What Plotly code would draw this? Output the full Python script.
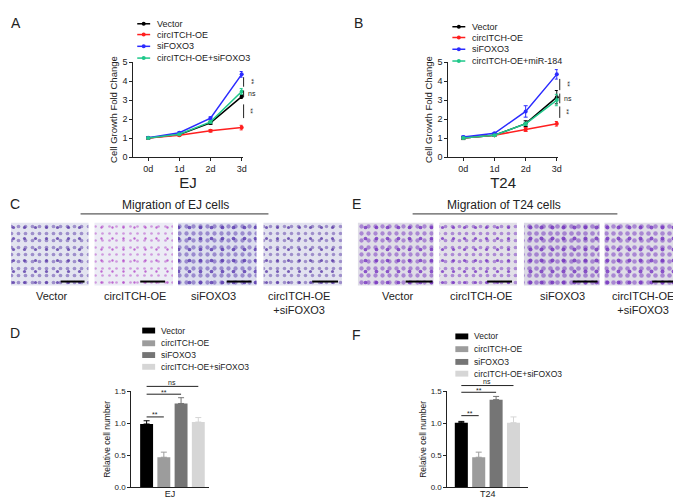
import plotly.graph_objects as go

W, H = 681, 502
FONT = "Liberation Sans, Arial, sans-serif"
INK = "#222222"

# ---- data ----
days = ["0d", "1d", "2d", "3d"]
ej_groups = ["Vector", "circITCH-OE", "siFOXO3", "circITCH-OE+siFOXO3"]
t24_groups = ["Vector", "circITCH-OE", "siFOXO3", "circITCH-OE+miR-184"]
line_colors = ["#000000", "#ff1f1f", "#2b2bff", "#1fc88a"]

ej_growth = [[1.00, 1.18, 1.80, 3.18],
             [1.00, 1.15, 1.38, 1.55],
             [1.02, 1.28, 2.05, 4.35],
             [1.00, 1.20, 1.85, 3.45]]
ej_growth_err = [[0.05, 0.05, 0.08, 0.10],
                 [0.06, 0.04, 0.06, 0.12],
                 [0.04, 0.04, 0.06, 0.15],
                 [0.04, 0.04, 0.06, 0.15]]
t24_growth = [[1.00, 1.15, 1.76, 3.15],
              [1.00, 1.15, 1.45, 1.75],
              [1.05, 1.25, 2.40, 4.35],
              [1.00, 1.15, 1.75, 3.00]]
t24_growth_err = [[0.08, 0.05, 0.15, 0.35],
                  [0.05, 0.04, 0.10, 0.12],
                  [0.06, 0.04, 0.30, 0.25],
                  [0.05, 0.04, 0.08, 0.30]]
# (top, bottom, label) of the brackets right of day 3
ej_growth_sig = [(4.20, 3.70, "**"), (3.50, 3.15, "ns"), (2.77, 2.05, "**")]
t24_growth_sig = [(4.11, 3.52, "**"), (3.34, 2.83, "ns"), (2.66, 2.06, "**")]

bar_groups = ["Vector", "circITCH-OE", "siFOXO3", "circITCH-OE+siFOXO3"]
bar_colors = ["#000000", "#9c9c9c", "#757575", "#d6d6d6"]
ej_migration = [0.99, 0.47, 1.31, 1.02]
ej_migration_err = [0.05, 0.08, 0.09, 0.07]
t24_migration = [1.01, 0.47, 1.37, 1.01]
t24_migration_err = [0.02, 0.08, 0.05, 0.09]
# (compared bar, label, height) - all against Vector
ej_bar_sig = [(1, "**", 1.10), (2, "**", 1.455), (3, "ns", 1.577)]
t24_bar_sig = [(1, "**", 1.12), (2, "**", 1.485), (3, "ns", 1.59)]

image_labels = ["Vector", "circITCH-OE", "siFOXO3", "circITCH-OE<br>+siFOXO3"]


def px(x):
    return x / W


def py(y):
    return 1 - y / H


def to_paper(v, dom, rng):
    return dom[0] + (v - rng[0]) / (rng[1] - rng[0]) * (dom[1] - dom[0])


fig = go.Figure()

axis_common = dict(showgrid=False, zeroline=False, showline=True, linecolor=INK,
                   linewidth=1, ticks="outside", ticklen=3, tickwidth=1,
                   tickcolor=INK, tickfont=dict(size=9, color=INK), fixedrange=True)

shapes = []
annotations = []

################################################################################
# A / B : growth curves

line_panels = [
    dict(xa="x", ya="y", data=ej_growth, err=ej_growth_err, groups=ej_groups,
         sig=ej_growth_sig, x0=126, x1=236, title="EJ",
         leg_x=130, leg_y=[11, 22, 34, 46], sig_x=237),
    dict(xa="x2", ya="y2", data=t24_growth, err=t24_growth_err, groups=t24_groups,
         sig=t24_growth_sig, x0=443, x1=553, title="T24",
         leg_x=447, leg_y=[14, 25, 37, 49], sig_x=555),
]
growth_ydom = [py(147), py(50)]

for n, p in enumerate(line_panels):
    for vals, err, c in zip(p["data"], p["err"], line_colors):
        fig.add_trace(go.Scatter(
            x=days, y=vals, mode="lines+markers", showlegend=False, cliponaxis=False,
            line=dict(color=c, width=1.5), marker=dict(size=4, color=c),
            error_y=dict(type="data", array=err, color=c, thickness=1, width=2),
            xaxis=p["xa"], yaxis=p["ya"]))
    sfx = "" if n == 0 else "2"
    fig.layout["xaxis" + sfx] = dict(axis_common, domain=[px(p["x0"]), px(p["x1"])],
                                     range=[-0.48, 3.03], anchor="y" + sfx,
                                     title=dict(text=p["title"], font=dict(size=15, color=INK), standoff=4))
    fig.layout["yaxis" + sfx] = dict(axis_common, domain=growth_ydom, range=[0, 5], dtick=1,
                                     anchor="x" + sfx,
                                     title=dict(text="Cell Growth Fold Change", font=dict(size=9.5, color=INK), standoff=3))
    # legend
    for name, c, ly in zip(p["groups"], line_colors, p["leg_y"]):
        lx = p["leg_x"]
        shapes.append(dict(type="line", xref="paper", yref="paper", x0=px(lx), x1=px(lx + 13),
                           y0=py(ly), y1=py(ly), line=dict(color=c, width=1.5)))
        shapes.append(dict(type="circle", xref="paper", yref="paper", x0=px(lx + 4.5), x1=px(lx + 8.5),
                           y0=py(ly + 2), y1=py(ly - 2), fillcolor=c, line=dict(width=0)))
        annotations.append(dict(x=px(lx + 18), y=py(ly), xref="paper", yref="paper", text=name,
                                showarrow=False, xanchor="left", yanchor="middle",
                                font=dict(size=9, color=INK)))
    # brackets
    for top, bot, lab in p["sig"]:
        shapes.append(dict(type="line", xref="paper", yref=p["ya"], x0=px(p["sig_x"]), x1=px(p["sig_x"]),
                           y0=bot, y1=top, line=dict(color=INK, width=1)))
        annotations.append(dict(x=px(p["sig_x"] + 2), y=(top + bot) / 2, xref="paper", yref=p["ya"],
                                text=lab, showarrow=False, xanchor="left", yanchor="middle",
                                textangle=0 if lab == "ns" else 90, font=dict(size=7, color=INK)))

################################################################################
# C / E : migration images (stain texture from two overlaid dot patterns)

img_top, img_bot = 214, 278
image_sets = [
    dict(title="Migration of EJ cells", tx=168, line=(73, 262),
         boxes=[(3, 81), (87, 166), (171, 250), (257, 336)],
         bars=[(53, 77), (133, 158), (220, 245), (306, 332)],
         labels=[44, 128, 207, 293],
         fg=["#5a3aa8", "#b246c8", "#5737ae", "#5a3aa6"],
         bg=["#e3e4f0", "#ececf5", "#dcdeee", "#e2e2ef"],
         solid=[0.22, 0.12, 0.30, 0.20]),
    dict(title="Migration of T24 cells", tx=499, line=(407, 613),
         boxes=[(352, 428), (434, 512), (519, 595), (600, 678)],
         bars=[(400, 427), (482, 507), (568, 593), (648, 673)],
         labels=[392, 476, 558, 639],
         fg=["#7532c0", "#7834c2", "#7030bc", "#7432c0"],
         bg=["#dfdde7", "#e2e0e8", "#dbd9e5", "#dfdde7"],
         solid=[0.30, 0.22, 0.36, 0.34]),
]
for s in image_sets:
    for (bx0, bx1), fg, bg, sol in zip(s["boxes"], s["fg"], s["bg"], s["solid"]):
        xs = [bx0, bx1, bx1, bx0, bx0]
        ys = [img_top, img_top, img_bot, img_bot, img_top]
        fig.add_trace(go.Scatter(
            x=xs, y=ys, mode="lines", fill="toself", fillcolor=bg, line=dict(width=0),
            fillpattern=dict(shape=".", fgcolor=fg, bgcolor=bg, size=7, solidity=sol),
            showlegend=False, hoverinfo="skip", xaxis="x5", yaxis="y5"))
        fig.add_trace(go.Scatter(
            x=xs, y=ys, mode="lines", fill="toself", fillcolor="rgba(0,0,0,0)", line=dict(width=0),
            fillpattern=dict(shape=".", fgcolor=fg, bgcolor="rgba(0,0,0,0)", size=11,
                             solidity=sol * 0.3, fgopacity=0.8),
            showlegend=False, hoverinfo="skip", xaxis="x5", yaxis="y5"))
    for sx0, sx1 in s["bars"]:
        shapes.append(dict(type="line", xref="paper", yref="paper", x0=px(sx0), x1=px(sx1),
                           y0=py(274), y1=py(274), line=dict(color="#000000", width=2)))
    for lab, lx in zip(image_labels, s["labels"]):
        annotations.append(dict(x=px(lx), y=py(281), xref="paper", yref="paper", text=lab,
                                showarrow=False, xanchor="center", yanchor="top", align="center",
                                font=dict(size=11, color=INK)))
    annotations.append(dict(x=px(s["tx"]), y=py(196), xref="paper", yref="paper", text=s["title"],
                            showarrow=False, xanchor="center", yanchor="middle",
                            font=dict(size=12, color=INK)))
    shapes.append(dict(type="line", xref="paper", yref="paper", x0=px(s["line"][0]), x1=px(s["line"][1]),
                       y0=py(205), y1=py(205), line=dict(color="#333333", width=1)))

fig.layout.xaxis5 = dict(domain=[0, 1], range=[0, W], visible=False, fixedrange=True, anchor="y5")
fig.layout.yaxis5 = dict(domain=[0, 1], range=[H, 0], visible=False, fixedrange=True, anchor="x5")

################################################################################
# D / F : migration bar charts

bar_ydom = [py(484), py(386)]
bar_rng = [0, 1.5]
bar_panels = [
    dict(xa="x3", ya="y3", vals=ej_migration, err=ej_migration_err, sig=ej_bar_sig,
         x0=124, x1=202, xr=[-0.89, 3.61], title="EJ", leg_x=135, leg_y=[324, 337, 349, 361]),
    dict(xa="x4", ya="y4", vals=t24_migration, err=t24_migration_err, sig=t24_bar_sig,
         x0=442, x1=523, xr=[-0.8, 3.83], title="T24", leg_x=450, leg_y=[330, 343, 356, 368]),
]
for n, p in enumerate(bar_panels):
    for i, (v, e, c) in enumerate(zip(p["vals"], p["err"], bar_colors)):
        fig.add_trace(go.Bar(
            x=[i], y=[v], width=0.75, marker=dict(color=c, line=dict(width=0)),
            error_y=dict(type="data", array=[e], arrayminus=[0], color=c, thickness=1, width=3),
            showlegend=False, xaxis=p["xa"], yaxis=p["ya"]))
    sfx = str(n + 3)
    fig.layout["xaxis" + sfx] = dict(axis_common, domain=[px(p["x0"]), px(p["x1"])], range=p["xr"],
                                     ticks="", showticklabels=False, anchor="y" + sfx,
                                     title=dict(text=p["title"], font=dict(size=9, color=INK), standoff=3))
    fig.layout["yaxis" + sfx] = dict(axis_common, domain=bar_ydom, range=bar_rng,
                                     tickvals=[0, 0.5, 1.0, 1.5], ticktext=["0.0", "0.5", "1.0", "1.5"],
                                     tickfont=dict(size=8, color=INK), anchor="x" + sfx,
                                     title=dict(text="Relative cell number", font=dict(size=8.5, color=INK), standoff=2))
    for name, c, ly in zip(bar_groups, bar_colors, p["leg_y"]):
        lx = p["leg_x"]
        shapes.append(dict(type="rect", xref="paper", yref="paper", x0=px(lx), x1=px(lx + 13),
                           y0=py(ly + 3), y1=py(ly - 3), fillcolor=c, line=dict(width=0)))
        annotations.append(dict(x=px(lx + 17), y=py(ly), xref="paper", yref="paper", text=name,
                                showarrow=False, xanchor="left", yanchor="middle",
                                font=dict(size=8.5, color=INK)))
    for j, lab, h in p["sig"]:
        yp = to_paper(h, bar_ydom, bar_rng)
        shapes.append(dict(type="line", xref=p["xa"], yref="paper", x0=0, x1=j, y0=yp, y1=yp,
                           line=dict(color=INK, width=1)))
        # asterisks sit high in their box, "ns" sits on the baseline
        off = 2 if lab == "**" else 4
        annotations.append(dict(x=j / 2, y=yp + off / H, xref=p["xa"], yref="paper", text=lab,
                                showarrow=False, xanchor="center", yanchor="middle",
                                font=dict(size=7, color=INK)))

################################################################################
# panel letters

for letter, lx, ly in [("A", 8, 10), ("B", 353, 10), ("C", 7, 195),
                       ("D", 7, 327), ("E", 351, 195), ("F", 351, 329)]:
    annotations.append(dict(x=px(lx), y=py(ly), xref="paper", yref="paper", text=letter,
                            showarrow=False, xanchor="center", yanchor="middle",
                            font=dict(size=14, color=INK)))

fig.update_layout(
    width=W, height=H, margin=dict(l=0, r=0, t=0, b=0),
    paper_bgcolor="white", plot_bgcolor="rgba(0,0,0,0)",
    font=dict(family=FONT, color=INK), showlegend=False, barmode="overlay",
    shapes=shapes, annotations=annotations,
)

fig.write_html("out.html")
